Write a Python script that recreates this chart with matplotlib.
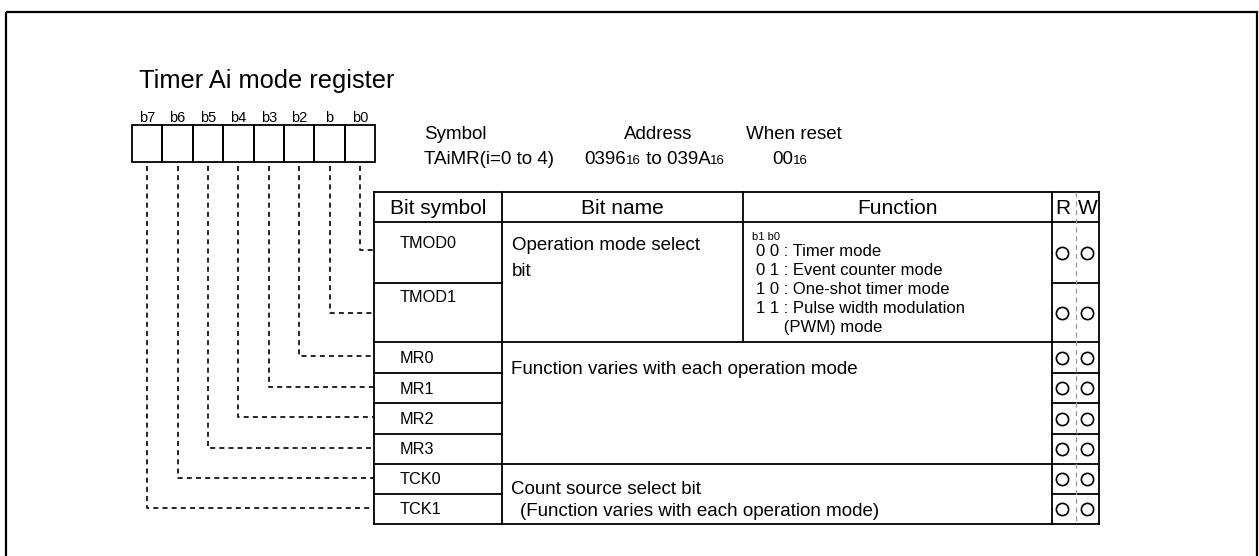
import matplotlib.pyplot as plt
from matplotlib.patches import Rectangle

plt.rcParams['font.family'] = ['Liberation Sans', 'DejaVu Sans']

# register contents
title = 'Timer Ai mode register'
bit_labels = ['b7', 'b6', 'b5', 'b4', 'b3', 'b2', 'b', 'b0']
bit_symbols = ['TMOD0', 'TMOD1', 'MR0', 'MR1', 'MR2', 'MR3', 'TCK0', 'TCK1']
bit_numbers = [0, 1, 2, 3, 4, 5, 6, 7]       # bit feeding each symbol row
headers = ['Bit symbol', 'Bit name', 'Function']
mode_header = 'b1 b0'
mode_lines = ['0 0 : Timer mode', '0 1 : Event counter mode',
              '1 0 : One-shot timer mode', '1 1 : Pulse width modulation',
              '      (PWM) mode']
readable = [1, 1, 1, 1, 1, 1, 1, 1]
writable = [1, 1, 1, 1, 1, 1, 1, 1]

fig = plt.figure(figsize=(12.59, 5.56), dpi=100)
ax = fig.add_axes([0, 0, 1, 1])
ax.set_xlim(0, 1259)
ax.set_ylim(556, 0)
ax.axis('off')
renderer = fig.canvas.get_renderer()

LW = 1.3
BODY = 13.5


def seq_text(x, y, parts):
    # draw pieces one after another (normal text + small "16" subscripts)
    for s, size in parts:
        t = ax.text(x, y, s, fontsize=size, va='baseline', ha='left')
        x += t.get_window_extent(renderer).width


# outer frame
ax.add_patch(Rectangle((6, 12), 1251, 560, fill=False, lw=1.6, ec='black'))

ax.text(139, 88, title, fontsize=18.3, va='baseline')

# bit boxes
bx0, bw, by0, by1 = 132, 30.4, 125, 162
for i, lab in enumerate(bit_labels):
    ax.add_patch(Rectangle((bx0 + i * bw, by0), bw, by1 - by0, fill=False, lw=LW, ec='black'))
    ax.text(bx0 + (i + 0.5) * bw, 122, lab, fontsize=10.5, ha='center', va='baseline')

# symbol / address / reset value
seq_text(424, 139, [('Symbol', BODY)])
seq_text(424, 164, [('TAiMR(i=0 to 4)', BODY)])
ax.text(658, 139, 'Address', fontsize=BODY, ha='center', va='baseline')
seq_text(584, 164, [('0396', BODY), ('16', 9.5), (' to 039A', BODY), ('16', 9.5)])
seq_text(746, 139, [('When reset', BODY)])
seq_text(772, 164, [('00', BODY), ('16', 9.5)])

# table geometry
cx = [374, 502, 743, 1052, 1099]
rw_mid = 1076
top, hdr = 192, 222
rows = [222, 283, 342, 373, 403, 434, 464, 494, 524]

k = dict(color='black', lw=LW, solid_capstyle='projecting')
ax.plot([cx[0], cx[-1]], [top, top], **k)
ax.plot([cx[0], cx[-1]], [hdr, hdr], **k)
ax.plot([cx[0], cx[-1]], [rows[-1], rows[-1]], **k)
for x in (cx[0], cx[1], cx[3], cx[4]):
    ax.plot([x, x], [top, rows[-1]], **k)
# bit name / function divider only in header and TMOD rows
ax.plot([cx[2], cx[2]], [top, rows[2]], **k)
# row lines
for j in range(1, len(rows) - 1):
    y = rows[j]
    if j in (2, 6):
        ax.plot([cx[0], cx[4]], [y, y], **k)
    else:
        ax.plot([cx[0], cx[1]], [y, y], **k)
        ax.plot([cx[3], cx[4]], [y, y], **k)
ax.plot([rw_mid, rw_mid], [top, rows[-1]], color='#999999', lw=0.9,
        linestyle=(0, (4, 3)))

for h, x0, x1 in zip(headers, cx[:3], cx[1:4]):
    ax.text((x0 + x1) / 2, 208, h, fontsize=15, ha='center', va='center')
ax.text(1063, 208, 'R', fontsize=15, ha='center', va='center')
ax.text(1088, 208, 'W', fontsize=15, ha='center', va='center')

# bit symbols and connectors
sym_y = [243, 298] + [(rows[j] + rows[j + 1]) / 2 + 1 for j in range(2, 8)]
conn_y = [250, 313] + [(rows[j] + rows[j + 1]) / 2 - 1.5 for j in range(2, 8)]
for j, (sym, b) in enumerate(zip(bit_symbols, bit_numbers)):
    ax.text(400, sym_y[j], sym, fontsize=11.7, ha='left', va='center')
    xb = bx0 + (7 - b + 0.5) * bw
    ax.plot([xb, xb, cx[0]], [by1 + 4, conn_y[j], conn_y[j]], color='black',
            lw=1.2, linestyle=(0, (3, 2.5)))
    yc = (rows[j] + rows[j + 1]) / 2
    if readable[j]:
        ax.plot(1062, yc, 'o', ms=8.8, mfc='none', mec='black', mew=1.2)
    if writable[j]:
        ax.plot(1087, yc, 'o', ms=8.8, mfc='none', mec='black', mew=1.2)

# bit names / functions
ax.text(512, 245, 'Operation mode select', fontsize=BODY, va='center')
ax.text(512, 271, 'bit', fontsize=BODY, va='center')
ax.text(752, 237, mode_header, fontsize=8, va='center')
for i, line in enumerate(mode_lines):
    ax.text(756, 252 + i * 18.8, line, fontsize=12, va='center')
ax.text(511, 369, 'Function varies with each operation mode', fontsize=BODY, va='center')
ax.text(511, 489, 'Count source select bit', fontsize=BODY, va='center')
ax.text(520, 512, '(Function varies with each operation mode)', fontsize=BODY, va='center')

fig.savefig('out.png', dpi=100)
